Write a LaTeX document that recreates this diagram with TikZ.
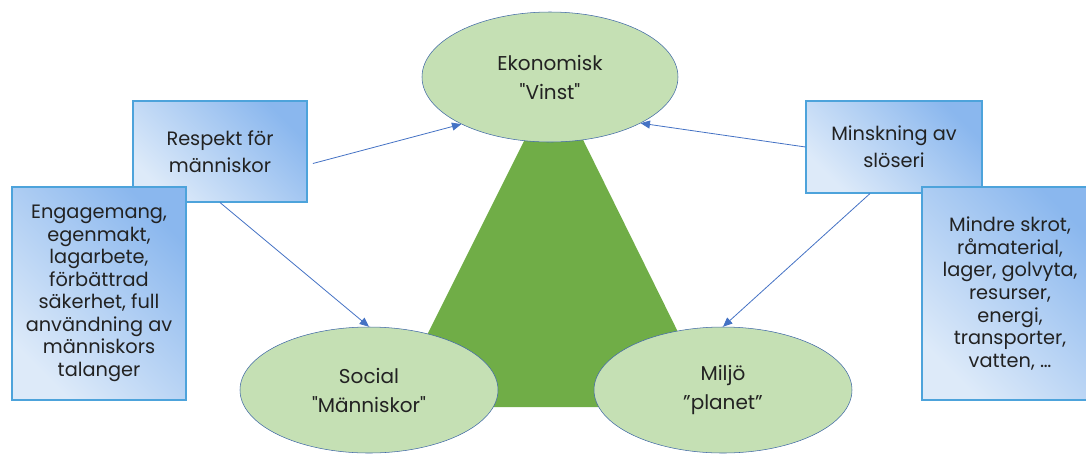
\documentclass[tikz,border=0pt]{standalone}
\usepackage{fontspec}
\setmainfont{Poppins}
\usetikzlibrary{arrows.meta,shapes.geometric}
\definecolor{Leaf}{HTML}{70AD47}
\definecolor{LightLeaf}{HTML}{C5E0B4}
\definecolor{Outline}{HTML}{4169A6}
\definecolor{BoxLine}{HTML}{4DA3DB}
\definecolor{BoxDark}{HTML}{8AB7EE}
\definecolor{BoxLight}{HTML}{DDEAF9}
\definecolor{Link}{HTML}{4472C4}
\definecolor{Ink}{HTML}{222222}

\begin{document}
\begin{tikzpicture}[
  x=0.75pt,y=-0.75pt,
  >={Triangle[length=7pt,width=6pt]},
  pillar/.style={ellipse,draw=Outline,fill=LightLeaf,inner sep=0pt,align=center,text=Ink,
    font=\fontsize{15}{21.75}\selectfont},
  box/.style={draw=BoxLine,thick,top color=BoxDark,bottom color=BoxLight,shading angle=-45,
    inner sep=0pt,align=center,text=Ink},
  link/.style={->,Link,semithick}
]
  \useasboundingbox (0,0) rectangle (1086,455);
  % the triangle behind the three pillars
  \fill[Leaf] (554,81) -- (391,407) -- (715,407) -- cycle;

  \node[pillar,minimum width=192pt,minimum height=97.5pt] (ekonomisk) at (550,77) {Ekonomisk\\\textquotedbl Vinst\textquotedbl};
  \node[pillar,minimum width=193.5pt,minimum height=94.5pt] (social) at (369,390) {Social\\\textquotedbl Människor\textquotedbl};
  \node[pillar,minimum width=193.5pt,minimum height=94.5pt] (miljo) at (723,390) {Miljö\\”planet”};

  \node[box,minimum width=130.5pt,minimum height=75.75pt,font=\fontsize{14.5}{20}\selectfont] (respekt) at (220,151.5) {Respekt för\\människor};
  \node[box,minimum width=130.5pt,minimum height=159.75pt,font=\fontsize{14.5}{16.9}\selectfont] (engagemang) at (99,293.5)
    {Engagemang,\\egenmakt,\\lagarbete,\\förbättrad\\säkerhet, full\\användning av\\människors\\talanger};
  \node[box,minimum width=132pt,minimum height=69pt,font=\fontsize{14.5}{20}\selectfont] (minskning) at (894,147) {Minskning av\\slöseri};
  \node[box,minimum width=132pt,minimum height=159.75pt,font=\fontsize{14.5}{16.9}\selectfont] (mindre) at (1010,293.5)
    {Mindre skrot,\\råmaterial,\\lager, golvyta,\\resurser,\\energi,\\transporter,\\vatten, …};

  \draw[link] ([xshift=4pt,yshift=-9pt]respekt.east) -- (ekonomisk.208);
  \draw[link] (respekt.south) -- (social.north);
  \draw[link] (minskning.west) -- (ekonomisk.333);
  \draw[link] ([xshift=-18pt]minskning.south) -- (miljo.north);
\end{tikzpicture}
\end{document}
